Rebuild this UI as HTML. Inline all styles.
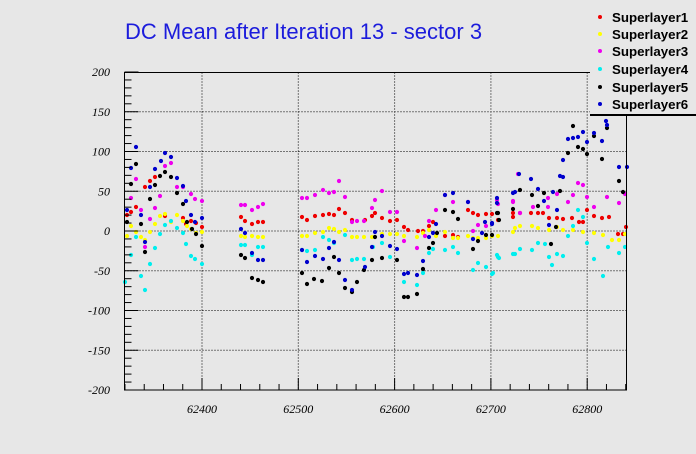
<!DOCTYPE html>
<html><head><meta charset="utf-8"><style>
html,body{margin:0;padding:0;background:#e7e7e7;}
svg{display:block;}
.yl{font-family:"Liberation Serif",serif;font-style:italic;font-size:12px;text-anchor:end;}
.xl{font-family:"Liberation Serif",serif;font-style:italic;font-size:12px;text-anchor:middle;}
.lg{font-family:"Liberation Sans",sans-serif;font-weight:bold;font-size:13.3px;}
</style></head><body>
<svg id="s" width="696" height="454" xmlns="http://www.w3.org/2000/svg">
<rect width="696" height="454" fill="#e7e7e7"/>
<text x="125" y="39" font-family="Liberation Sans, sans-serif" font-size="22" fill="#1c1cdc">DC Mean after Iteration 13 - sector 3</text>
<g id="grid"></g>
<g id="pts"></g>
<rect x="124.5" y="72.5" width="502" height="317.5" fill="none" stroke="#000" stroke-width="1"/>
<g id="ticks"></g>
<g id="lab"></g>
<rect x="590" y="0" width="106" height="115" fill="#e7e7e7"/>
<line x1="590" y1="115" x2="696" y2="115" stroke="#000" stroke-width="2"/>
<g class="lg">
<circle cx="600" cy="17" r="2" fill="#ee0000"/><text x="612" y="22">Superlayer1</text>
<circle cx="600" cy="34" r="2" fill="#ffff00"/><text x="612" y="39">Superlayer2</text>
<circle cx="600" cy="51" r="2" fill="#ee00ee"/><text x="612" y="56">Superlayer3</text>
<circle cx="600" cy="69" r="2" fill="#00eeee"/><text x="612" y="74">Superlayer4</text>
<circle cx="600" cy="87" r="2" fill="#000"/><text x="612" y="92">Superlayer5</text>
<circle cx="600" cy="104" r="2" fill="#0000cc"/><text x="612" y="109">Superlayer6</text>
</g>
</svg>
<script>
var NS="http://www.w3.org/2000/svg";
function el(p,t,a,txt){var e=document.createElementNS(NS,t);for(var k in a)e.setAttribute(k,a[k]);if(txt!==undefined)e.textContent=txt;document.getElementById(p).appendChild(e);}
var L=124.5,R=626.5,T=72.5,B=390;
function yp(v){return 231-v*0.795;}
function xp(v){return 202+(v-62400)*0.963;}
for(var v=-200;v<=200;v+=50){var y=yp(v);
 if(v>-200&&v<200) el("grid","line",{x1:L,x2:R,y1:y,y2:y,stroke:"#000","stroke-width":1,"stroke-dasharray":"1,2"});
 el("lab","text",{x:110,y:y+4,"class":"yl"},String(v));}
for(var v=-200;v<=200;v+=10){var y=yp(v);var len=(v%50==0)?14:7;
 el("ticks","line",{x1:L,x2:L+len,y1:y,y2:y,stroke:"#000","stroke-width":1});}
for(var v=62400;v<=62800;v+=100){var x=xp(v);
 el("grid","line",{x1:x,x2:x,y1:T,y2:B,stroke:"#000","stroke-width":1,"stroke-dasharray":"1,2"});
 el("lab","text",{x:x,y:413,"class":"xl"},String(v));}
for(var v=62320;v<=62840;v+=20){var x=xp(v);if(x<L||x>R)continue;var len=(v%100==0)?12:6;
 el("ticks","line",{x1:x,x2:x,y1:B,y2:B-len,stroke:"#000","stroke-width":1});}
var S={
"#ee0000":[[127,215],[131,212],[136,207],[145,187],[150,181],[155,177],[165,216],[183,218],[186,224],[191,221],[196,223],[202,227],[241,217],[245,221],[252,224],[258,222],[263,222],[302,217],[307,220],[315,216],[323,215],[329,214],[334,215],[339,209],[345,213],[352,220],[365,220],[372,216],[375,213],[382,218],[390,221],[397,220],[404,227],[408,230],[418,231],[423,231],[429,226],[433,222],[445,236],[453,235],[458,237],[468,210],[473,213],[478,215],[486,214],[492,214],[498,220],[513,213],[513,217],[520,213],[531,213],[538,213],[543,213],[549,218],[557,218],[563,219],[572,218],[579,222],[583,222],[587,210],[594,216],[602,218],[609,217],[618,234],[623,234],[626,227]],
"#ffff00":[[127,236],[131,226],[136,232],[141,237],[145,240],[150,232],[155,224],[160,216],[165,214],[171,222],[177,215],[183,221],[187,226],[191,229],[196,233],[202,232],[241,236],[245,237],[252,236],[258,237],[263,237],[302,236],[307,236],[315,233],[323,232],[329,228],[334,229],[339,232],[345,230],[352,237],[357,237],[364,237],[372,237],[382,234],[390,234],[397,234],[404,236],[417,237],[423,233],[429,230],[436,236],[445,232],[453,238],[458,238],[468,236],[473,238],[478,238],[486,238],[492,236],[498,236],[513,232],[515,228],[520,226],[532,226],[538,228],[549,230],[557,227],[563,230],[573,230],[583,232],[594,233],[603,235],[612,240],[619,240],[625,234]],
"#ee00ee":[[131,198],[136,179],[141,210],[145,247],[150,219],[155,208],[160,196],[165,166],[171,163],[177,187],[183,187],[191,194],[195,199],[202,201],[241,205],[245,205],[252,210],[258,207],[263,204],[302,198],[307,198],[315,195],[323,190],[329,193],[334,192],[339,181],[345,197],[352,222],[357,221],[364,221],[372,208],[375,200],[382,191],[390,212],[397,212],[404,241],[417,248],[425,236],[429,221],[436,210],[445,195],[453,202],[468,202],[473,231],[478,225],[486,226],[497,200],[498,204],[513,202],[518,174],[513,201],[520,213],[533,207],[548,207],[548,198],[557,194],[568,202],[573,195],[578,183],[583,185],[587,197],[594,207],[607,197],[619,203],[625,194]],
"#00eeee":[[125,282],[131,255],[136,237],[141,276],[145,290],[150,264],[155,248],[160,234],[165,225],[171,221],[177,228],[183,233],[186,244],[191,256],[195,259],[202,264],[241,245],[245,245],[252,255],[258,247],[263,247],[302,250],[307,251],[315,250],[323,237],[329,240],[334,243],[345,235],[352,260],[357,259],[364,259],[373,247],[382,243],[390,257],[404,282],[417,285],[423,273],[429,253],[433,249],[445,250],[453,247],[458,253],[473,270],[478,263],[486,267],[492,274],[493,273],[498,257],[499,258],[497,255],[513,254],[515,254],[520,249],[532,250],[538,243],[545,244],[549,257],[552,265],[557,254],[563,256],[568,236],[573,226],[578,210],[583,217],[587,243],[594,259],[603,276],[608,247],[619,253],[625,247]],
"#000000":[[127,222],[131,184],[136,164],[141,224],[145,252],[150,199],[155,185],[160,176],[165,172],[171,177],[177,193],[183,204],[187,222],[192,229],[196,234],[202,246],[241,255],[245,258],[252,278],[258,280],[263,282],[302,273],[307,284],[314,279],[322,281],[329,268],[334,257],[339,273],[345,288],[352,292],[357,282],[364,270],[372,260],[375,237],[382,258],[397,260],[404,297],[408,297],[417,294],[423,269],[429,248],[433,243],[437,233],[445,210],[453,212],[458,219],[473,249],[478,241],[486,235],[492,235],[497,213],[498,213],[499,220],[513,209],[520,190],[532,195],[538,206],[544,193],[551,244],[556,227],[560,191],[568,153],[573,126],[578,147],[583,149],[587,154],[594,136],[602,159],[607,128],[619,181],[623,192]],
"#0000cc":[[127,210],[131,168],[136,147],[141,215],[145,242],[150,187],[155,169],[161,161],[165,153],[171,157],[177,178],[183,186],[186,201],[191,215],[195,222],[202,218],[241,229],[245,233],[252,253],[258,260],[263,260],[302,250],[307,262],[315,256],[323,259],[329,248],[334,242],[339,260],[345,280],[352,290],[365,267],[372,247],[375,232],[382,236],[390,246],[397,249],[404,274],[408,273],[417,275],[423,261],[429,237],[433,233],[436,224],[445,195],[453,193],[468,202],[473,239],[482,233],[485,222],[492,224],[492,223],[497,198],[497,203],[513,193],[515,192],[519,174],[531,179],[538,189],[544,201],[549,225],[553,192],[557,210],[560,176],[563,177],[563,160],[568,139],[573,138],[578,137],[583,132],[587,142],[594,133],[602,141],[606,121],[607,125],[619,167],[627,167]]
};
for(var c in S){S[c].forEach(function(p){el("pts","circle",{cx:p[0],cy:p[1],r:2.1,fill:c});});}
</script>
</body></html>
